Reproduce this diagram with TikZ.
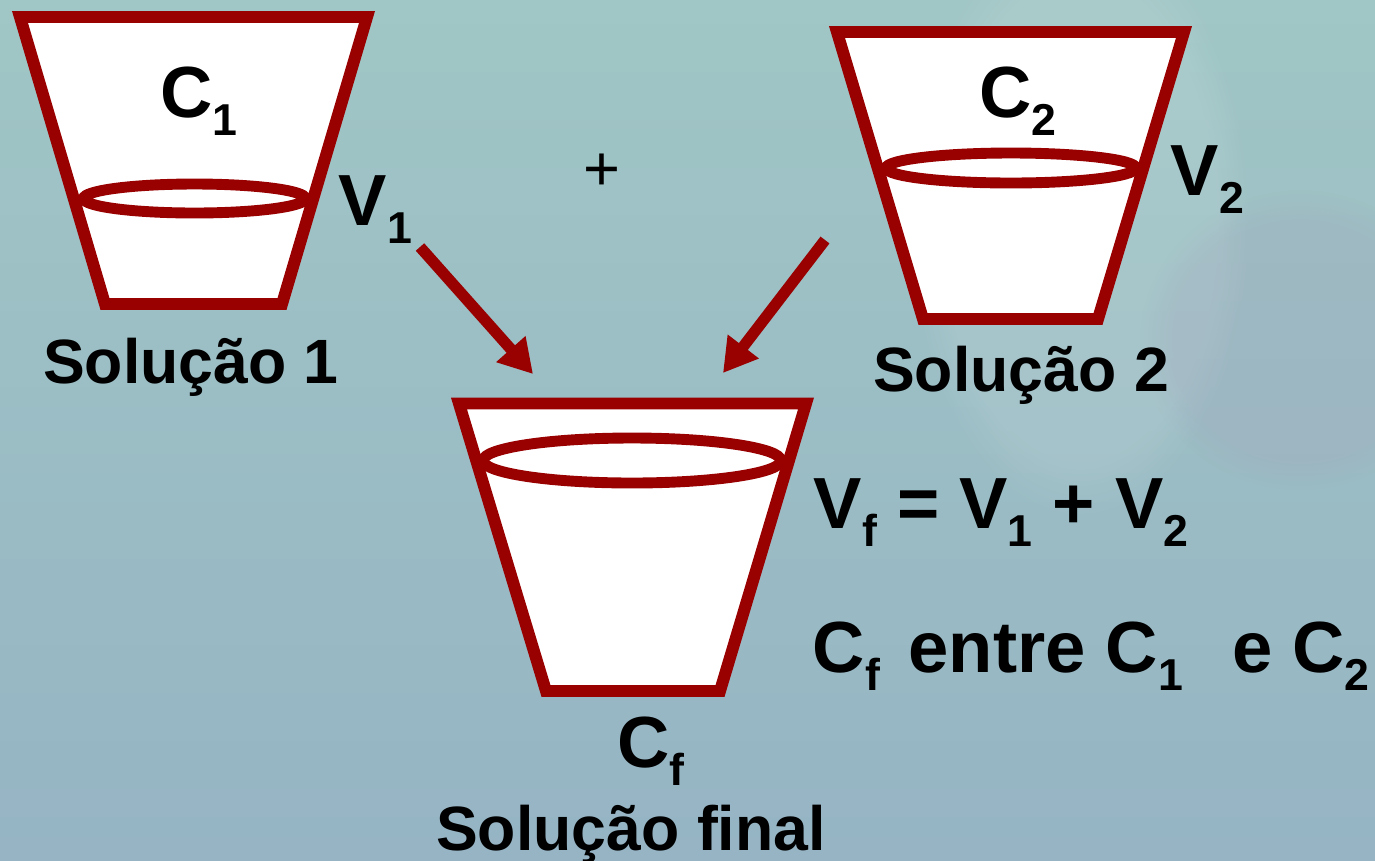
\documentclass[tikz,border=0pt]{standalone}
\usepackage{fontspec}
\setmainfont{Liberation Sans}
\usetikzlibrary{arrows.meta, positioning, fadings}

\definecolor{cupred}{RGB}{153,0,0}
\definecolor{bgteal}{RGB}{160,198,197}
\definecolor{bgblue}{RGB}{150,180,196}
\definecolor{bgmauve}{RGB}{165,160,185}
\newcommand{\idx}[1]{\raisebox{-0.26em}{\fontsize{12.7}{14}\selectfont #1}}

\begin{document}
\begin{tikzpicture}[
  x=0.01cm, y=-0.01cm,
  cup/.style={draw=cupred, fill=white, line width=3.4pt, line join=miter},
  level/.style={draw=cupred, line width=3.1pt},
  flow/.style={draw=cupred, line width=3.2pt, -{Triangle[length=9.5pt, width=10.5pt]}},
  big/.style={inner sep=0pt, font=\fontsize{20.6}{24}\selectfont\bfseries},
  caption/.style={inner sep=0pt, font=\fontsize{17.8}{21}\selectfont\bfseries}
]
% background
\useasboundingbox (0,0) rectangle (1375,860);
\fill[top color=bgteal, bottom color=bgblue] (0,0) rectangle (1375,860);
\fill[white, opacity=0.1, path fading=circle with fuzzy edge 20 percent]
  (1080,220) ellipse [x radius=170, y radius=300];
\fill[bgmauve, opacity=0.22, path fading=circle with fuzzy edge 20 percent]
  (1300,340) ellipse [x radius=160, y radius=150];

% solution 1
\draw[cup] (20,17) -- (367,17) -- (282,304) -- (105,304) -- cycle;
\draw[level] (194.5,198.5) ellipse [x radius=111, y radius=14.5];
\node[big, anchor=base] (c1) at (199,117) {C\idx{1}};
\node[big, anchor=base west] (v1) at (338,225) {V\idx{1}};
\node[caption, anchor=base] (sol1) at (191,383) {Solução 1};

\node[inner sep=0pt, font=\fontsize{18}{20}\selectfont] (plus) at (602,172) {+};

% solution 2
\draw[cup] (837,32) -- (1184,32) -- (1098,319) -- (923,319) -- cycle;
\draw[level] (1011,168) ellipse [x radius=125, y radius=15];
\node[big, anchor=base] (c2) at (1018,117) {C\idx{2}};
\node[big, anchor=base west] (v2) at (1170,195) {V\idx{2}};
\node[caption, anchor=base] (sol2) at (1021,391) {Solução 2};

% final solution
\draw[cup] (459,403.5) -- (806,403.5) -- (720,691) -- (546,691) -- cycle;
\draw[level] (632,460.5) ellipse [x radius=149, y radius=22.5];
\node[big, anchor=base] (cf) at (651,767) {C\idx{f}};
\node[caption, anchor=base] (solf) at (631,850) {Solução final};

\node[big, anchor=base west] (eqv) at (813,528) {V\idx{f} = V\idx{1} + V\idx{2}};
\node[big, anchor=base west] (eqc) at (812,672)
  {C\idx{f}\hspace{0.12em} entre C\idx{1}\hspace{0.4em} e C\idx{2}};

% mixing arrows
\coordinate (from1) at (420,247);
\coordinate (into1) at (533,374);
\coordinate (from2) at (825,240);
\coordinate (into2) at (723,373);
\draw[flow] (from1) -- (into1);
\draw[flow] (from2) -- (into2);
\end{tikzpicture}
\end{document}
